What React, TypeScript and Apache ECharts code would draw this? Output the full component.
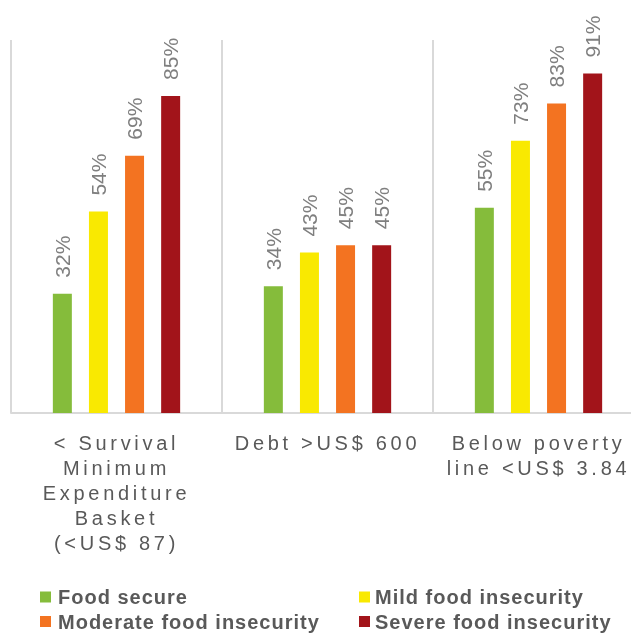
import React, { useEffect, useRef } from "react";
import * as echarts from "echarts";

const categories = [
  "< Survival\nMinimum\nExpenditure\nBasket\n(<US$ 87)",
  "Debt >US$ 600",
  "Below poverty\nline <US$ 3.84",
];
const seriesNames = [
  "Food secure",
  "Mild food insecurity",
  "Moderate food insecurity",
  "Severe food insecurity",
];
const foodSecure = [32, 34, 55];
const mildInsecurity = [54, 43, 73];
const moderateInsecurity = [69, 45, 83];
const severeInsecurity = [85, 45, 91];
const seriesColors = ["#85BC3B", "#F9E901", "#F37321", "#A2141A"];

const FONT = "'Liberation Sans', Arial, Helvetica, sans-serif";

export default function App() {
  const ref = useRef<HTMLDivElement>(null);

  useEffect(() => {
    if (!ref.current) return;
    const chart = echarts.init(ref.current, undefined, { renderer: "svg" });
    const values = [foodSecure, mildInsecurity, moderateInsecurity, severeInsecurity];

    const legendBase = {
      top: 582,
      height: 70,
      padding: 5,
      orient: "vertical",
      itemWidth: 11,
      itemHeight: 11,
      itemGap: 4.5,
      icon: "rect",
    };
    const legendText = {
      fontSize: 20,
      fontWeight: "bold",
      color: "#595959",
      lineHeight: 20,
      fontFamily: FONT,
    };

    chart.setOption({
      animation: false,
      grid: { left: 11, width: 633, top: 40, height: 373, outerBoundsMode: "none", containLabel: false },
      xAxis: {
        type: "category",
        data: categories,
        axisTick: { show: false },
        axisLine: { lineStyle: { color: "#d9d9d9", width: 2 } },
        splitLine: { show: true, interval: 0, lineStyle: { color: "#d9d9d9", width: 2 } },
        axisLabel: {
          interval: 0,
          fontSize: 20,
          lineHeight: 25,
          color: "#595959",
          margin: 17,
          fontFamily: FONT,
        },
      },
      yAxis: { type: "value", min: 0, max: 100, show: false },
      legend: [
        {
          ...legendBase,
          left: 35,
          data: [seriesNames[0], seriesNames[2]],
          textStyle: { ...legendText, padding: [0, 0, 0, 2] },
        },
        {
          ...legendBase,
          left: 354,
          data: [seriesNames[1], seriesNames[3]],
          textStyle: { ...legendText },
        },
      ],
      series: seriesNames.map((name, i) => ({
        name,
        type: "bar",
        data: values[i],
        barWidth: 19,
        barGap: "90%",
        itemStyle: { color: seriesColors[i] },
        label: {
          show: true,
          position: "top",
          distance: 16,
          rotate: 90,
          align: "left",
          verticalAlign: "middle",
          formatter: "{c}%",
          fontSize: 21,
          color: "#7f7f7f",
          fontFamily: FONT,
        },
      })),
    });

    const axisLines = new Set<string>();
    categories.forEach((c) => c.split("\n").forEach((l) => axisLines.add(l)));
    const legendNames = new Set<string>(seriesNames);
    const applySpacing = () => {
      const root = ref.current;
      if (!root) return;
      root.querySelectorAll("text").forEach((t) => {
        const s = (t.textContent || "").trim();
        if (axisLines.has(s)) (t as SVGTextElement).style.letterSpacing = "3.7px";
        else if (legendNames.has(s)) (t as SVGTextElement).style.letterSpacing = "1px";
      });
    };
    applySpacing();
    chart.on("finished", applySpacing);

    return () => {
      chart.dispose();
    };
  }, []);

  return (
    <div
      ref={ref}
      style={{ position: "fixed", left: 0, top: 0, width: 631, height: 633 }}
    />
  );
}
